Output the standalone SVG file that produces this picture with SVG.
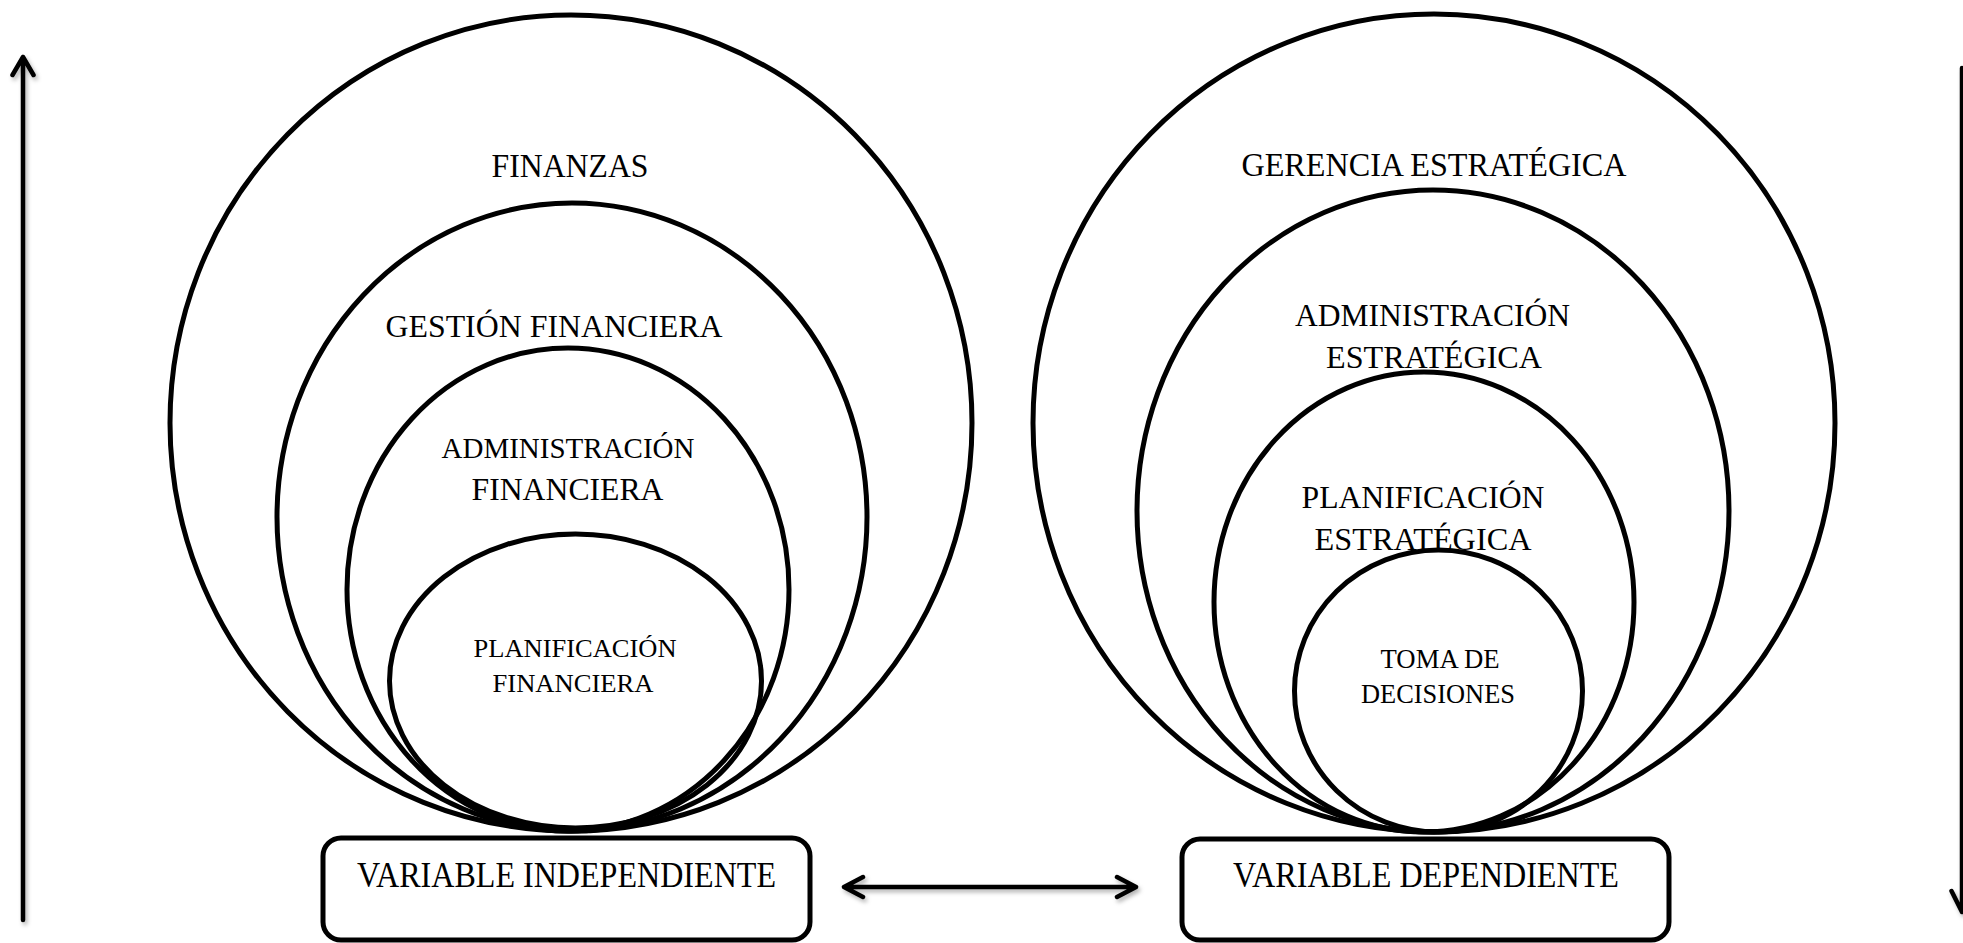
<svg xmlns="http://www.w3.org/2000/svg" width="1963" height="943" viewBox="0 0 1963 943">
  <style>
    .ring { fill: none; stroke: #000; stroke-width: 5; }
    .box { fill: #fff; stroke: #000; stroke-width: 5; }
    .lbl { font-family: "Liberation Serif", "Times New Roman", serif; fill: #000; text-anchor: middle; }
    .arrow { fill: none; stroke: #000; stroke-width: 4.5; stroke-linecap: round; stroke-linejoin: round; }
  </style>
  <defs>
    <filter id="shadow" x="-20%" y="-20%" width="140%" height="140%">
      <feDropShadow dx="2" dy="3" stdDeviation="2" flood-color="#000" flood-opacity="0.3"/>
    </filter>
  </defs>
  <rect width="1963" height="943" fill="#fff"/>

  <!-- Left nest: finance -->
  <g id="finanzas">
    <ellipse class="ring" cx="571" cy="423" rx="401" ry="408"/>
    <text class="lbl" x="570" y="177" font-size="33" textLength="157" lengthAdjust="spacingAndGlyphs">FINANZAS</text>
  </g>
  <g id="gestion-financiera">
    <ellipse class="ring" cx="572" cy="517" rx="295" ry="314"/>
    <text class="lbl" x="554" y="337" font-size="32" textLength="337" lengthAdjust="spacingAndGlyphs">GESTIÓN FINANCIERA</text>
  </g>
  <g id="administracion-financiera">
    <ellipse class="ring" cx="568" cy="589.5" rx="221" ry="241.5"/>
    <text class="lbl" x="568" y="458" font-size="28.5" textLength="253" lengthAdjust="spacingAndGlyphs">ADMINISTRACIÓN</text>
    <text class="lbl" x="567.5" y="500" font-size="31" textLength="192" lengthAdjust="spacingAndGlyphs">FINANCIERA</text>
  </g>
  <g id="planificacion-financiera">
    <ellipse class="ring" cx="575.5" cy="681" rx="186" ry="147"/>
    <text class="lbl" x="575" y="657" font-size="26" textLength="203" lengthAdjust="spacingAndGlyphs">PLANIFICACIÓN</text>
    <text class="lbl" x="573" y="692" font-size="26" textLength="161" lengthAdjust="spacingAndGlyphs">FINANCIERA</text>
  </g>

  <!-- Right nest: strategy -->
  <g id="gerencia-estrategica">
    <ellipse class="ring" cx="1434" cy="423" rx="401" ry="409"/>
    <text class="lbl" x="1434" y="176" font-size="33" textLength="385" lengthAdjust="spacingAndGlyphs">GERENCIA ESTRATÉGICA</text>
  </g>
  <g id="administracion-estrategica">
    <ellipse class="ring" cx="1433" cy="511" rx="296" ry="321"/>
    <text class="lbl" x="1432.5" y="326" font-size="30.5" textLength="275" lengthAdjust="spacingAndGlyphs">ADMINISTRACIÓN</text>
    <text class="lbl" x="1434" y="368" font-size="32" textLength="216" lengthAdjust="spacingAndGlyphs">ESTRATÉGICA</text>
  </g>
  <g id="planificacion-estrategica">
    <ellipse class="ring" cx="1424" cy="602" rx="210" ry="230"/>
    <text class="lbl" x="1423" y="508" font-size="31" textLength="243" lengthAdjust="spacingAndGlyphs">PLANIFICACIÓN</text>
    <text class="lbl" x="1423" y="550" font-size="32" textLength="217" lengthAdjust="spacingAndGlyphs">ESTRATÉGICA</text>
  </g>
  <g id="toma-de-decisiones">
    <ellipse class="ring" cx="1438.5" cy="691" rx="144" ry="141"/>
    <text class="lbl" x="1440" y="668" font-size="26.5" textLength="119" lengthAdjust="spacingAndGlyphs">TOMA DE</text>
    <text class="lbl" x="1438" y="703" font-size="26.5" textLength="154" lengthAdjust="spacingAndGlyphs">DECISIONES</text>
  </g>

  <!-- Variable boxes -->
  <g id="variable-independiente">
    <rect class="box" x="323" y="838" width="487" height="102" rx="18" ry="18"/>
    <text class="lbl" x="566.5" y="887" font-size="36" textLength="419" lengthAdjust="spacingAndGlyphs">VARIABLE INDEPENDIENTE</text>
  </g>
  <g id="variable-dependiente">
    <rect class="box" x="1182" y="839" width="487" height="101" rx="18" ry="18"/>
    <text class="lbl" x="1426" y="887" font-size="36" textLength="386" lengthAdjust="spacingAndGlyphs">VARIABLE DEPENDIENTE</text>
  </g>

  <!-- Connectors -->
  <g id="connectors" filter="url(#shadow)">
    <!-- upward axis, left edge -->
    <path class="arrow" d="M23 920 V57 M12.5 75 L23 57 L33.5 75"/>
    <!-- downward axis, right edge -->
    <path class="arrow" d="M1962 68 V912 M1951.5 891 L1962 912 L1972.5 891"/>
    <!-- two-way link between the variables -->
    <path class="arrow" d="M844 887 H1136 M863 877 L844 887 L863 897 M1117 877 L1136 887 L1117 897"/>
  </g>
</svg>
